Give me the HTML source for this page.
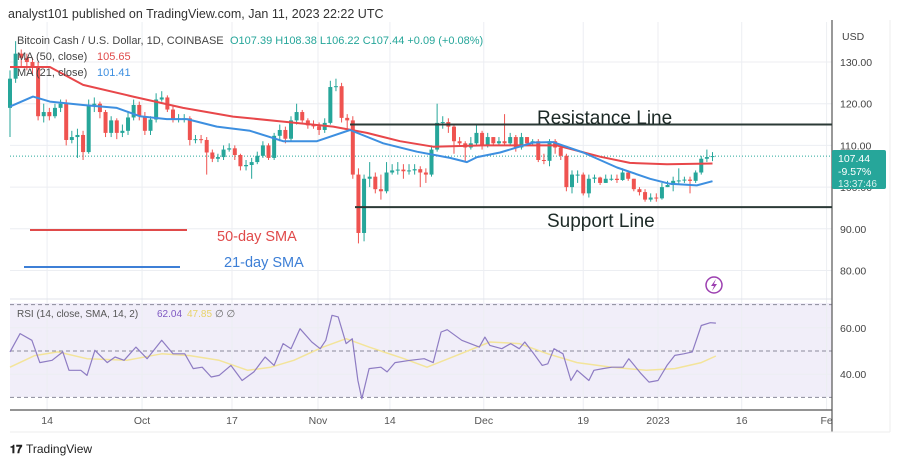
<!DOCTYPE html>
<html><head><meta charset="utf-8">
<style>
body{margin:0;background:#fff;width:900px;height:464px;overflow:hidden;font-family:"Liberation Sans",sans-serif}
svg text{font-family:"Liberation Sans",sans-serif}
</style></head>
<body>
<svg id="c" width="900" height="464" viewBox="0 0 900 464"></svg>
<script>
// ---- data ----
const closes=[126,132,131,130,129,117,118,117,119,120,
111.3,112,112.5,108.4,119.7,120,118,113,116,113,
113.5,116.7,119.7,117,113.5,116.2,121,121.5,118.6,116.3,
116.5,116.5,111.3,111.5,111.3,108.3,106.8,107.2,109,109.3,
107.7,105,105.3,106,107.5,110,107,112.3,113.7,111.6,
116,118,116,114.8,114.6,113.7,115.4,124,124.2,116.6,
116,103,89,102,102.5,99.5,99,103.5,104,104.2,
103.8,104,104.3,103.5,103,109,115.4,115.6,114.5,111,
110.5,109.5,110.5,113,110,112,110.5,111,110.5,112,
109.5,112,110.5,111,106.5,106.3,111,109.5,107.5,100,
103,103,98.5,102,102.3,101,102,102,101.7,103.5,
102,99.5,98.8,97,97.5,97.3,100,100.5,101.5,101.6,
101.8,101.5,103.5,106.8,107.2,107.44];
const opens=[119,126,132,131,130,129,117,118,117,119,
120,111.3,112,112.5,108.4,119.7,120,118,113,116,
113,113.5,116.7,119.7,117,113.5,116.2,121,121.5,118.6,
116.3,116.5,116.5,111.3,111.5,111.3,108.3,106.8,107.2,109,
109.3,107.7,105,105.3,106,107.5,110,107,112.3,113.7,
111.6,116,118,116,114.8,114.6,113.7,115.4,124,124.2,
116.6,116,103,89,102,102.5,99.5,99,103.5,104,
104.2,103.8,104,104.3,103.5,103,109,115.4,115.6,114.5,
111,110.5,109.5,110.5,113,110,112,110.5,111,110.5,
112,109.5,112,110.5,111,106.5,106.3,111,109.5,107.5,
100,103,103,98.5,102,102.3,101,102,102,101.7,
103.5,102,99.5,98.8,97,97.5,97.3,100,100.5,101.5,
101.6,101.8,101.5,103.5,106.8,107.39];
const highs=[128,135,133,132,131,130,120,119,120,121,
121,113.5,114,113.5,121,121.5,120.5,118.5,117,116.5,
115,118,121,120.5,118,117,122.5,123,122,119.5,
117.5,117.5,117,112.5,112.5,112,109,108,110,110.5,
110,108,106.5,107,108.5,111,110.5,113,115,114.5,
117,120,118.5,116.5,116,115.5,116.5,125.5,126,125,
117.5,117,104.5,103,106,103.5,103,106,105.5,106,
105.5,105.5,105.5,105,104.5,110,120,117,116.5,115,
112,111,112,115,113.5,113,112,112,117.5,113,
112.5,113,112,111.5,111.5,108,111.5,111.5,110,108,
104,104,103.5,103,103,102.5,103,103,103,104.5,
104,102,100,99.5,98.5,98.5,101,101.5,102.5,104.5,
102.5,102.5,104,107.5,109,108.38];
const lows=[112,125,129,128,127,116,115.5,116,116.5,118,
110,110.5,107,106.5,108,118,116.5,112,112,111.5,
112,112.5,116,116,112.5,112.5,115.5,120.5,118,115.5,
115.5,115.5,110,110.5,110.5,103,106,106,106.5,108.5,
106.5,104,104,102,105.5,107,106.5,106.5,111,110.5,
111,115,115.5,114,114,112.5,113,115,123,115.5,
114,102,86.5,87,100,98.5,97,98.5,103,103,
102,103,103,100,101,102.5,108.5,114,113,108,
110,106,109,110,109,109.5,110,110,110,110,
108.5,109,110,110,106,105.5,105,108,106.5,99,
98.5,101,98,97.5,101,100.5,101,101.5,101,101.5,
101.5,99,98,96.5,96.5,96.5,97,100,99,100.5,
101,98.5,101,103,106,106.22];
const sma50Day=[0,7.1,13,21.9,30.8,39.7,48.6,57.5,63.5,69.4,75.3,84.2,93.1,97.3,105,110.3,116.9,125];
const sma50Val=[128.8,128.8,124.5,121.7,119,116.9,115.7,114.5,113,111,109.7,110,110,110,107.3,105.8,105.5,105.65];
const sma21Day=[0,4.1,7.1,13,19,23.1,27.9,31.5,36.8,42.7,48.6,54.6,60.5,66.4,72.4,78.3,81.3,83.1,87.2,93.1,96.6,102,108,113.9,117.4,122.2,125];
const sma21Val=[119.3,121.7,120.5,119.7,119,117,116.3,116.3,114.5,113.5,111,111,113.7,110.5,108.5,107,106,107.2,108.3,110.7,110.8,108.3,104.7,102,100.8,100.4,101.41];
const rsiDay=[0,1.8,3.9,5.3,7.5,9.4,10.5,12.6,13.7,15.1,17.3,18.7,20.3,22.4,24.4,27,29,31.1,32.6,34.2,35.8,37.2,39.3,41.3,43.4,45.4,47,48.6,50,51.6,53.7,55.2,56.2,57.3,58.4,59.8,60.9,61.9,62.6,63.9,66,67.1,68.5,71.2,73.7,75.3,76.7,77.8,80.4,83.5,84.5,85.4,87.5,89.1,90.6,91.6,93.2,94.7,95.7,96.8,98.4,99.8,100.9,103,103.9,105.5,107.1,109.1,110.1,112.3,113.7,115.3,116.9,118.3,119.9,121.4,123,124.6,125.6];
const rsiVal=[49.6,57.5,54.6,45,46,49.6,41.7,41.7,39.5,50.3,45,47.4,46,51.7,46.7,54.6,48.8,48.8,42.4,43,38.8,39.5,43.8,37.3,41,47.4,43.8,53.2,51,59.6,53.9,51,54.6,65.4,64.7,53.2,55.3,37.3,29.4,42.4,43,41,45,46,46.7,45,58.2,59.2,54.6,51.7,56,52.4,51,53.2,51,53.9,48.8,43.8,44.5,51,48.8,37.3,41.7,37.3,41.7,42.4,43,43,46.7,40.2,36.6,37.3,43.8,48.1,48.8,49.6,61,62.2,62.04];
const rsiMaDay=[0,4.4,8.5,13.7,20.8,27,32,37.2,42.3,46.4,50.5,55.7,59.8,63.9,70.1,74.2,79.4,85.4,90.6,95.7,100.9,107.1,113.2,118.3,123,125.6];
const rsiMaVal=[43,48,49.6,46.7,46,48.8,48,46,41.7,43,46,51.7,55.3,51.7,46.7,43,48,53.9,53.2,48.8,45,43,41.7,42.4,45,47.85];
const priceTicks=[130,120,110,100,90,80];
const rsiTicks=[60,40];
const dateLabels=["14","Oct","17","Nov","14","Dec","19","2023","16","Fe"];
const dateDays=[6.6,23.5,39.5,54.8,67.6,84.3,102,115.3,130.2,145.3];
const resistance=115, support=95.2;

// ---- scales ----
const X=d=>10+d*5.62;
const Y=p=>62+(130-p)*4.17;
const R=r=>351-(r-50)*2.32;

const svg=document.getElementById('c');
const NS='http://www.w3.org/2000/svg';
function mk(tag,at,parent){const e=document.createElementNS(NS,tag);for(const k in at)e.setAttribute(k,at[k]);(parent||svg).appendChild(e);return e;}
function txt(s,at,parent){const e=mk('text',at,parent);e.textContent=s;return e;}

let t=txt('analyst101 published on TradingView.com, Jan 11, 2023 22:22 UTC',{x:8,y:18,'font-size':12.5,fill:'#333'});


let bg=mk('rect',{x:10,y:303,width:822,height:94,fill:'#f1eef9'});


const grid=mk('g',{stroke:'#eceef2','stroke-width':1});

priceTicks.forEach(p=>mk('line',{x1:10,x2:832,y1:Y(p),y2:Y(p)},grid));
rsiTicks.forEach(r=>mk('line',{x1:10,x2:832,y1:R(r),y2:R(r)},grid));
dateDays.forEach(d=>mk('line',{x1:X(d),x2:X(d),y1:22,y2:410},grid));

[70,50,30].forEach(r=>{const l=mk('line',{x1:10,x2:832,y1:R(r),y2:R(r),stroke:'#8a8a9a','stroke-dasharray':'4,3','stroke-width':1});
});
mk('line',{x1:10,x2:832,y1:299,y2:299,stroke:'#e0e3eb'});
mk('line',{x1:10,x2:832,y1:410,y2:410,stroke:'#555','stroke-width':1.2});
let ax=mk('line',{x1:832,x2:832,y1:20,y2:432,stroke:'#555','stroke-width':1.2});

mk('line',{x1:890,x2:890,y1:20,y2:432,stroke:'#eee'});
mk('line',{x1:10,x2:890,y1:432,y2:432,stroke:'#eee'});

mk('line',{x1:10,x2:832,y1:Y(107.44),y2:Y(107.44),stroke:'#26a69a','stroke-dasharray':'1,2','stroke-width':1});

const cg=mk('g',{});

closes.forEach((c,i)=>{
  const o=opens[i],up=c>=o,col=up?'#26a69a':'#ef5350',x=X(i);
  const g=mk('g',{},cg);
  
  
  mk('line',{x1:x,x2:x,y1:Y(highs[i]),y2:Y(lows[i]),stroke:col,'stroke-width':1},g);
  const top=Y(Math.max(o,c)),h=Math.max(1,Math.abs(Y(o)-Y(c)));
  mk('rect',{x:x-2,y:top,width:4,height:h,fill:col},g);
});

function poly(days,vals,fx,fy,col,w,name){
  const d=days.map((v,i)=>(i?'L':'M')+fx(v).toFixed(1)+','+fy(vals[i]).toFixed(1)).join(' ');
  const p=mk('path',{d:d,fill:'none',stroke:col,'stroke-width':w,'stroke-linejoin':'round'});
  
}
poly(sma50Day,sma50Val,X,Y,'#e8474a',2,'sma-50-line');
poly(sma21Day,sma21Val,X,Y,'#3d8fe0',2,'sma-21-line');

let rl=mk('line',{x1:350,x2:832,y1:Y(resistance),y2:Y(resistance),stroke:'#2b3a36','stroke-width':2});

let sl=mk('line',{x1:355,x2:832,y1:Y(support),y2:Y(support),stroke:'#2b3a36','stroke-width':2});

t=txt('Resistance Line',{x:537,y:124,'font-size':19,fill:'#1d2a27'});
t=txt('Support Line',{x:547,y:227,'font-size':19,fill:'#1d2a27'});

let l1=mk('line',{x1:30,x2:187,y1:230,y2:230,stroke:'#e04a4a','stroke-width':2});

t=txt('50-day SMA',{x:217,y:241,'font-size':14.5,fill:'#e04a4a'});
let l2=mk('line',{x1:24,x2:180,y1:267,y2:267,stroke:'#3d7fd6','stroke-width':2});

t=txt('21-day SMA',{x:224,y:267,'font-size':14.5,fill:'#3d7fd6'});

const info=mk('g',{'font-size':11});

txt('Bitcoin Cash / U.S. Dollar, 1D, COINBASE',{x:17,y:44,fill:'#444'},info);
txt('O107.39  H108.38  L106.22  C107.44  +0.09 (+0.08%)',{x:230,y:44,fill:'#26a69a'},info);
txt('MA (50, close)',{x:17,y:60,fill:'#444'},info);txt('105.65',{x:97,y:60,fill:'#e04a4a'},info);
txt('MA (21, close)',{x:17,y:76,fill:'#444'},info);txt('101.41',{x:97,y:76,fill:'#3d8fe0'},info);

poly(rsiMaDay,rsiMaVal,X,R,'#f3e49a',1.5,'rsi-sma-line');
poly(rsiDay,rsiVal,X,R,'#8e7cc3',1.2,'rsi-line');
const ri=mk('g',{'font-size':10});

txt('RSI (14, close, SMA, 14, 2)',{x:17,y:317,fill:'#555'},ri);
txt('62.04',{x:157,y:317,fill:'#7e57c2'},ri);
txt('47.85',{x:187,y:317,fill:'#e8d36a'},ri);
txt('∅  ∅',{x:215,y:317,fill:'#666'},ri);

const pa=mk('g',{'font-size':10.5,fill:'#444'});

txt('USD',{x:842,y:40},pa);
priceTicks.forEach(p=>txt(p.toFixed(2),{x:840,y:Y(p)+4},pa));
rsiTicks.forEach(r=>txt(r.toFixed(2),{x:840,y:R(r)+4},pa));
const tag=mk('g',{});

mk('rect',{x:832,y:150,width:54,height:39,rx:2,fill:'#26a69a'},tag);
txt('107.44',{x:838,y:162,'font-size':10.5,fill:'#fff'},tag);
txt('-9.57%',{x:838,y:175,'font-size':10.5,fill:'#fff'},tag);
txt('13:37:46',{x:838,y:187,'font-size':10,fill:'#d8f2ef'},tag);

const da=mk('g',{'font-size':10.5,fill:'#555','text-anchor':'middle'});

dateLabels.forEach((s,i)=>txt(s,{x:X(dateDays[i]),y:424},da));

const ic=mk('g',{});

mk('circle',{cx:714,cy:285,r:8,fill:'none',stroke:'#9c3fb0','stroke-width':1.5},ic);
mk('path',{d:'M716,279 L711,286 L714,286 L712,291 L717,284 L714,284 Z',fill:'#9c3fb0'},ic);

const lg=mk('g',{});

txt('𝟏𝟕',{x:10,y:453,'font-size':11,'font-weight':'bold',fill:'#222'},lg);
txt('TradingView',{x:26,y:453,'font-size':12,fill:'#222'},lg);
</script>
</body></html>
